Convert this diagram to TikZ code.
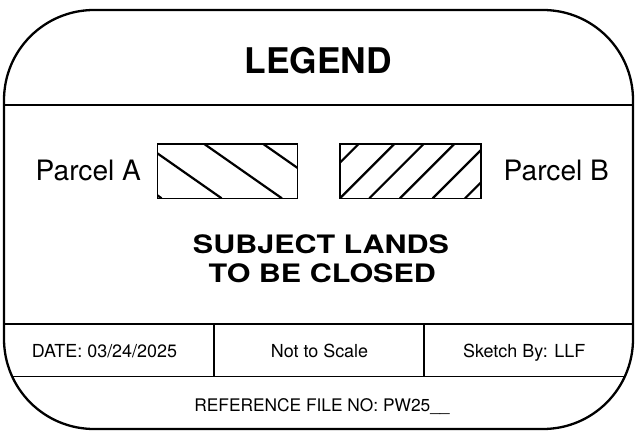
\documentclass[tikz,border=0pt]{standalone}
\usepackage{fontspec}
\setmainfont{TeX Gyre Heros}
\begin{document}
\begin{tikzpicture}[x=1bp,y=-1bp,
  frame/.style={line width=2.3bp,rounded corners=90bp},
  rule/.style={line width=1.1bp},
  hatchbox/.style={line width=1.1bp},
  hatchline/.style={line width=2.2bp},
  txt/.style={inner sep=0pt,anchor=base},
  bigtitle/.style={txt,font=\fontsize{35.5}{40}\selectfont\bfseries},
  subtitle/.style={txt,font=\fontsize{25.5}{29}\selectfont\bfseries},
  parcel/.style={txt,font=\fontsize{28.2}{30}\selectfont},
  small/.style={txt,font=\fontsize{18}{20}\selectfont},
  refstyle/.style={txt,font=\fontsize{17.4}{20}\selectfont}]
\useasboundingbox (0,0) rectangle (637,435);
% inner rules clipped to the rounded frame
\begin{scope}
  \clip[rounded corners=90bp] (4,10) rectangle (633,429);
  \draw[rule] (0,105) -- (637,105);
  \draw[rule] (0,324) -- (637,324);
  \draw[rule] (0,376.7) -- (637,376.7);
\end{scope}
\draw[rule] (214,324) -- (214,376.7);
\draw[rule] (424,324) -- (424,376.7);
\draw[frame] (4,10) rectangle (633,429);
% hatched box A
\begin{scope}
  \clip (157.3,144) rectangle (297.3,198.3);
  \foreach \t in {84,144,204.3,263.3}
    \draw[hatchline] (\t,144) -- ++(77.6,54.3);
\end{scope}
\draw[hatchbox] (157.3,144) rectangle (297.3,198.3);
% hatched box B
\begin{scope}
  \clip (340,144) rectangle (481,198.3);
  \foreach \b in {304.3,340,369.3,400,432.7,465}
    \draw[hatchline] (\b,198.3) -- ++(54.3,-54.3);
\end{scope}
\draw[hatchbox] (340,144) rectangle (481,198.3);
% texts
\node[bigtitle] (legend) at (318.3,73.3) {LEGEND};
\node[parcel] (pa) at (88.3,180.7) {Parcel A};
\node[parcel] (pb) at (556.3,180.7) {Parcel B};
\node[subtitle] (s1) at (321,253.3) {\scalebox{1.2}[1]{SUBJECT LANDS}};
\node[subtitle] (s2) at (322.3,282.3) {\scalebox{1.2}[1]{TO BE CLOSED}};
\node[small] (date) at (104.5,357.3) {DATE: 03/24/2025};
\node[small] (scale) at (319.5,357.5) {Not to Scale};
\node[small] (sketch) at (524.2,357.3) {Sketch By: LLF};
\node[refstyle] (ref) at (322,411.7) {REFERENCE FILE NO: PW25\_\_};
\end{tikzpicture}
\end{document}
